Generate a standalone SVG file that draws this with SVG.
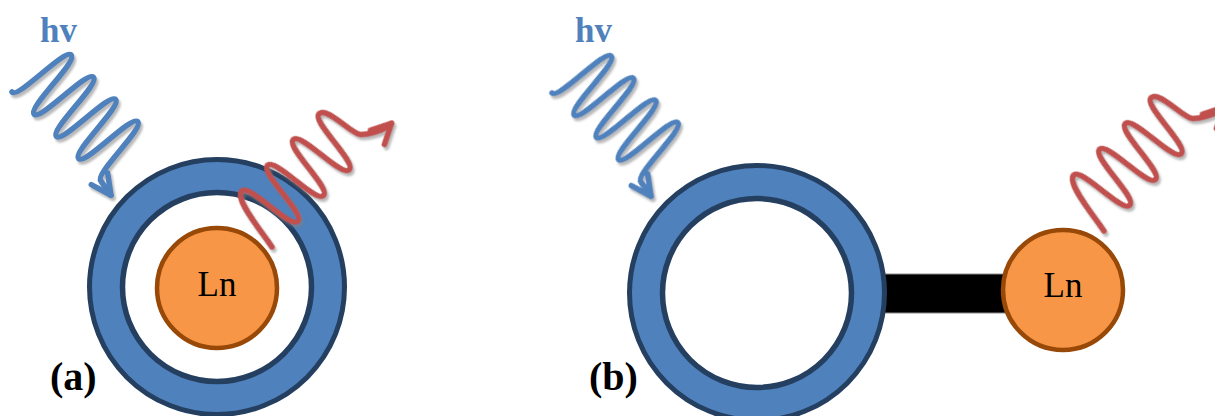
<svg xmlns="http://www.w3.org/2000/svg" width="1215" height="416" viewBox="0 0 1215 416">
  <style>
    .ring { fill: #4f81bd; stroke: #243f60; stroke-width: 5; }
    .hole { fill: #ffffff; stroke: #243f60; stroke-width: 5.5; }
    .ln { fill: #f79646; stroke: #984807; stroke-width: 4.5; }
    .lntext { font-family: "Liberation Serif", "Times New Roman", serif; font-size: 35px; fill: #000; text-anchor: middle; }
    .hv { font-family: "Liberation Serif", "Times New Roman", serif; font-size: 35px; font-weight: bold; fill: #4f81bd; }
    .tag { font-family: "Liberation Serif", "Times New Roman", serif; font-size: 40px; font-weight: bold; fill: #000; }
    .wave { fill: none; stroke-width: 5.5; stroke-linecap: round; stroke-linejoin: round; }
    .blue { stroke: #4f81bd; marker-end: url(#arrowBlue); }
    .red { stroke: #c0504d; marker-end: url(#arrowRed); }
  </style>
  <defs>
    <filter id="shadow" x="-20%" y="-20%" width="140%" height="140%">
      <feDropShadow dx="2" dy="3" stdDeviation="0.8" flood-color="#7f7f7f" flood-opacity="0.55"/>
    </filter>
    <marker id="arrowBlue" markerUnits="userSpaceOnUse" viewBox="-26 -14 30 28" markerWidth="30" markerHeight="28" refX="0" refY="0" orient="auto">
      <path d="M-20,-10 L0,0 L-20,10" fill="none" stroke="#4f81bd" stroke-width="5.5" stroke-linecap="round" stroke-linejoin="round"/>
    </marker>
    <marker id="arrowRed" markerUnits="userSpaceOnUse" viewBox="-26 -14 30 28" markerWidth="30" markerHeight="28" refX="0" refY="0" orient="auto">
      <path d="M-20,-10 L0,0 L-20,10" fill="none" stroke="#c0504d" stroke-width="5.5" stroke-linecap="round" stroke-linejoin="round"/>
    </marker>
    <path id="blueWave" d="M0,0 C9.4,0 6.3,-68 15.7,-68 C25.1,-68 22,0 31.4,0 C40.8,0 37.7,-68 47.1,-68 C56.5,-68 53.4,0 62.8,0 C72.2,0 69.1,-68 78.5,-68 C87.9,-68 84.8,0 94.2,0 C103.6,0 100.5,-68 109.9,-68 C119.3,-68 116.2,0 125.6,0 L143,3"/>
    <path id="redWave" d="M0,0 C4,-20 7.3,-61 18.2,-61 C29.1,-61 25.5,0 36.4,0 C47.3,0 43.7,-61 54.6,-61 C65.5,-61 61.9,0 72.8,0 C83.7,0 80.1,-61 91,-61 C101.9,-61 98.3,0 109.2,0 C120.1,0 116.5,-61 127.4,-61 C138.3,-61 136,-24 142,-17 C147,-12 160,-3 172,-3"/>
  </defs>

  <!-- Panel (a) -->
  <g id="ring-a">
    <circle class="ring" cx="217" cy="287" r="127.5"/>
    <circle class="hole" cx="217" cy="287" r="94.5"/>
  </g>
  <g id="ln-a">
    <circle class="ln" cx="217" cy="288" r="60"/>
    <text class="lntext" x="217" y="296">Ln</text>
  </g>
  <g id="label-hv-a"><text class="hv" x="40" y="42">hv</text></g>
  <g id="label-a"><text class="tag" x="50" y="390">(a)</text></g>

  <!-- Panel (b) -->
  <g id="connectors">
    <rect id="bond-b" x="878" y="274" width="132" height="39" fill="#000" stroke="#8c8c8c" stroke-width="1"/>
  </g>
  <g id="ring-b">
    <circle class="ring" cx="757" cy="293" r="127.5"/>
    <circle class="hole" cx="757" cy="293" r="94.5"/>
  </g>
  <g id="ln-b">
    <circle class="ln" cx="1063" cy="290" r="60"/>
    <text class="lntext" x="1063" y="297">Ln</text>
  </g>
  <g id="label-hv-b"><text class="hv" x="575" y="42">hv</text></g>
  <g id="label-b"><text class="tag" x="589" y="390">(b)</text></g>

  <!-- Photon waves -->
  <g id="waves" filter="url(#shadow)">
    <g transform="translate(12,92) rotate(45)"><use href="#blueWave" class="wave blue"/></g>
    <g transform="translate(272,247) rotate(-45)"><use href="#redWave" class="wave red"/></g>
    <g transform="translate(552,93) rotate(45)"><use href="#blueWave" class="wave blue"/></g>
    <g transform="translate(1104,231) rotate(-45)"><use href="#redWave" class="wave red"/></g>
  </g>
</svg>
